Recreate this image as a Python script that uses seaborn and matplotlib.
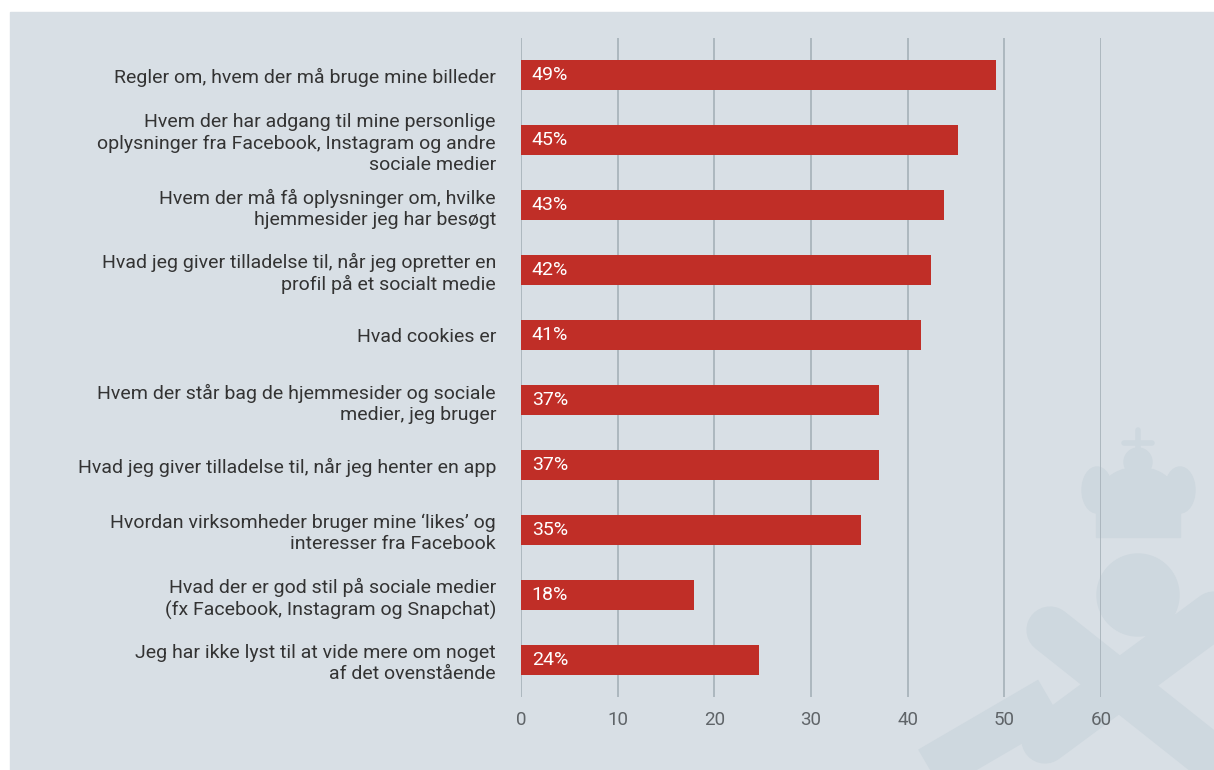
import matplotlib.pyplot as plt
import matplotlib.patches as mpatches
import seaborn as sns
import pandas as pd

labels = [
    "Regler om, hvem der må bruge mine billeder",
    "Hvem der har adgang til mine personlige\noplysninger fra Facebook, Instagram og andre\nsociale medier",
    "Hvem der må få oplysninger om, hvilke\nhjemmesider jeg har besøgt",
    "Hvad jeg giver tilladelse til, når jeg opretter en\nprofil på et socialt medie",
    "Hvad cookies er",
    "Hvem der står bag de hjemmesider og sociale\nmedier, jeg bruger",
    "Hvad jeg giver tilladelse til, når jeg henter en app",
    "Hvordan virksomheder bruger mine ‘likes’ og\ninteresser fra Facebook",
    "Hvad der er god stil på sociale medier\n(fx Facebook, Instagram og Snapchat)",
    "Jeg har ikke lyst til at vide mere om noget\naf det ovenstående",
]
values = [49.1, 45.2, 43.8, 42.4, 41.4, 37.0, 37.0, 35.2, 17.9, 24.6]
value_labels = ["49%", "45%", "43%", "42%", "41%", "37%", "37%", "35%", "18%", "24%"]
xticks = [0, 10, 20, 30, 40, 50, 60]

df = pd.DataFrame({"label": labels, "value": values})

bg = "#d8dfe5"
red = "#c02e27"
mark = "#ced8df"

sns.set_style("white")
plt.rcParams["font.family"] = ["Roboto", "DejaVu Sans"]

fig = plt.figure(figsize=(12.14, 7.70), dpi=100)
fig.patch.set_facecolor("white")
W, H = 1214, 770

# faint watermark in the lower right
wm = fig.add_axes([0, 0, 1, 1], zorder=-5)
wm.set_xlim(0, W)
wm.set_ylim(H, 0)
wm.axis("off")
wm.add_patch(mpatches.Rectangle((10, 12), W, H - 12, color=bg, zorder=0))
wm.plot([1050, 1214], [630, 760], color=mark, lw=34, solid_capstyle="round", zorder=1)
wm.plot([1045, 1214], [740, 615], color=mark, lw=34, solid_capstyle="round", zorder=1)
wm.plot([930, 1050], [770, 700], color=mark, lw=34, solid_capstyle="butt", zorder=1)
wm.add_patch(mpatches.Circle((1138, 595), 41, color=mark, zorder=1))
wm.add_patch(mpatches.Rectangle((1096, 500), 84, 37, color=mark, zorder=1))
wm.add_patch(mpatches.Ellipse((1138, 490), 70, 45, color=mark, zorder=1))
wm.add_patch(mpatches.Circle((1138, 462), 14, color=mark, zorder=1))
wm.plot([1138, 1138], [430, 452], color=mark, lw=4, zorder=1)
wm.plot([1124, 1152], [443, 443], color=mark, lw=4, zorder=1)
wm.add_patch(mpatches.Ellipse((1097, 490), 30, 46, color=mark, zorder=1))
wm.add_patch(mpatches.Ellipse((1180, 490), 30, 46, color=mark, zorder=1))

ax = fig.add_axes([521 / W, 1 - 697 / H, (1101 - 521) / W, (697 - 38) / H])
ax.set_facecolor("none")
sns.barplot(data=df, x="value", y="label", color=red, width=0.45,
            saturation=1, linewidth=0, ax=ax, zorder=3)

for i, t in enumerate(value_labels):
    ax.text(1.1, i, t, color="white", va="center", ha="left", fontsize=14, zorder=4)

ax.set_xlim(0, 60)
ax.set_ylim(9.57, -0.57)
ax.set_xticks(xticks)
ax.set_xticklabels([str(x) for x in xticks])
ax.grid(axis="x", color="#a9b4bc", linewidth=1.3, zorder=0)
ax.set_axisbelow(True)
for s in ax.spines.values():
    s.set_visible(False)
ax.set_xlabel("")
ax.set_ylabel("")
ax.tick_params(axis="x", length=0, pad=10, labelsize=13.5, labelcolor="#5f6468")
ax.tick_params(axis="y", length=0, pad=18, labelsize=14, labelcolor="#333333")
for t in ax.get_yticklabels():
    t.set_multialignment("right")
    t.set_linespacing(1.22)

fig.savefig("out.png", dpi=100, facecolor=fig.get_facecolor())
